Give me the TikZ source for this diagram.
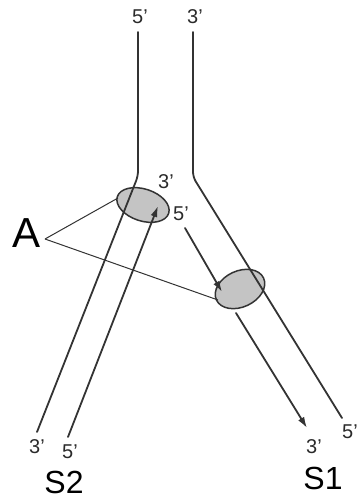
\documentclass[tikz,border=0pt]{standalone}
\usepackage{fontspec}
\setmainfont{Liberation Sans}
\usetikzlibrary{arrows.meta,shapes.geometric}
\definecolor{strandc}{HTML}{333333}
\definecolor{ovalfill}{HTML}{C4C4C4}
\definecolor{txtc}{HTML}{2A2A2A}
\tikzset{
  strand/.style={draw=strandc, line width=1.8pt, line cap=round, line join=round},
  newstrand/.style={strand, -{Latex[length=11pt,width=7pt]}},
  pointer/.style={draw=strandc, line width=1pt},
  oval/.style={ellipse, draw=strandc, line width=1.5pt, fill=ovalfill, inner sep=0pt},
  endlbl/.style={inner sep=0pt, text=txtc, font=\fontsize{20}{22}\selectfont},
  biglbl/.style={inner sep=0pt, text=black, font=\fontsize{32}{34}\selectfont},
  alabel/.style={inner sep=0pt, text=black, font=\fontsize{42}{44}\selectfont},
}
\begin{document}
\begin{tikzpicture}[x=1pt,y=-1pt]
\useasboundingbox (0,0) rectangle (362,500);
% ovals (region A)
\node[oval, minimum width=54pt, minimum height=32pt, rotate=-18] (e1) at (143,205) {};
\node[oval, minimum width=52pt, minimum height=36pt, rotate=25] (e2) at (240,289) {};
% labels
\node[endlbl] (t5) at (140,17) {5'};
\node[endlbl] (t3) at (195,17) {3'};
\node[endlbl] (m3) at (166,182) {3'};
\node[endlbl] (m5) at (181,214) {5'};
\node[endlbl] (b3) at (37,447) {3'};
\node[endlbl] (b5) at (70,452) {5'};
\node[endlbl] (c3) at (314,447) {3'};
\node[endlbl] (c5) at (350,432) {5'};
\node[biglbl] (s2) at (64,482) {S2};
\node[biglbl] (s1) at (323,478) {S1};
\node[alabel] (a) at (27,233) {A};
% coordinates
\coordinate (p1top) at (138,32);
\coordinate (p1bend) at (138,176);
\coordinate (p1end) at (37,432);
\coordinate (p2top) at (193,32);
\coordinate (p2bend) at (193,177);
\coordinate (p2end) at (342,418);
\coordinate (n2start) at (68,437);
\coordinate (n2tip) at (158,206);
\coordinate (n1start) at (185,228);
\coordinate (n1mid) at (222,292);
\coordinate (n1low) at (236,313);
\coordinate (n1tip) at (307,428);
\coordinate (aout) at (45,239);
\coordinate (e1hit) at (118,198);
\coordinate (e2hit) at (218,300);
% parental strands
\draw[strand, rounded corners=5pt] (p1top) -- (p1bend) -- (p1end);
\draw[strand, rounded corners=5pt] (p2top) -- (p2bend) -- (p2end);
% new strands
\draw[newstrand] (n2start) -- (n2tip);
\draw[newstrand] (n1start) -- (n1mid);
\draw[newstrand] (n1low) -- (n1tip);
% pointers from A
\draw[pointer] (aout) -- (e1hit);
\draw[pointer] (aout) -- (e2hit);
\end{tikzpicture}
\end{document}
